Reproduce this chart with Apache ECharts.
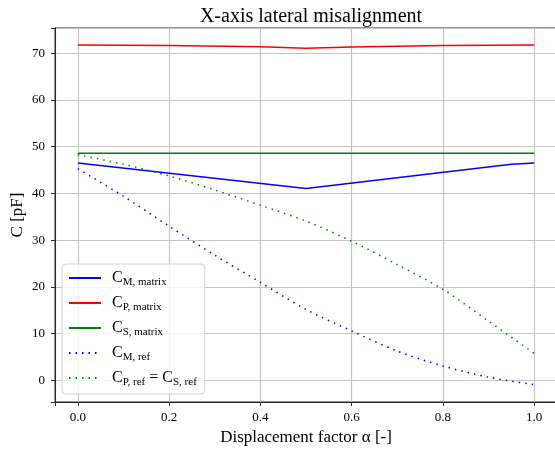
<!DOCTYPE html>
<html>
<head>
<meta charset="utf-8">
<script src="https://cdn.jsdelivr.net/npm/echarts@6/dist/echarts.min.js"></script>
<style>
html, body { margin: 0; padding: 0; background: #fff; }
#main { width: 555px; height: 452px; }
</style>
</head>
<body>
<div id="main"></div>
<script>
// matrix results
var alphaM = [0, 0.5, 0.95, 1.0];
var cMMatrix = [46.5, 41.05, 46.25, 46.5];
var alphaP = [0, 0.2, 0.4, 0.5, 0.6, 0.8, 1.0];
var cPMatrix = [71.75, 71.65, 71.4, 71.05, 71.35, 71.65, 71.75];
var alphaS = [0, 1.0];
var cSMatrix = [48.6, 48.6];

// reference curves
var alphaRef = [0, 0.1, 0.2, 0.3, 0.4, 0.5, 0.6, 0.7, 0.8, 0.9, 1.0];
var cMRef = [45.3, 39.4, 33.0, 26.8, 21.0, 15.2, 10.6, 6.3, 3.1, 0.7, -0.9];
var cPSRef = [48.3, 46.25, 43.75, 40.75, 37.5, 34.1, 29.8, 24.8, 19.5, 12.7, 5.8];

var seriesNames = ['CM_matrix', 'CP_matrix', 'CS_matrix', 'CM_ref', 'CPS_ref'];
var legendText = {
    CM_matrix: '{c|C}{s|M, matrix}',
    CP_matrix: '{c|C}{s|P, matrix}',
    CS_matrix: '{c|C}{s|S, matrix}',
    CM_ref: '{c|C}{s|M, ref}',
    CPS_ref: '{c|C}{s|P, ref}{c| = C}{s|S, ref}'
};

function pairs(xs, ys) {
    return xs.map(function (x, i) { return [x, ys[i]]; });
}

var font = 'Liberation Serif';
var spine = '#262626';

function lineSeries(name, xs, ys, color, dotted) {
    return {
        name: name,
        type: 'line',
        data: pairs(xs, ys),
        symbol: 'none',
        smooth: dotted ? 0.3 : false,
        silent: true,
        color: color,
        lineStyle: {
            color: color,
            width: 1.5,
            type: dotted ? [1.5, 5] : 'solid',
            cap: 'butt'
        }
    };
}

var chart = echarts.init(document.getElementById('main'));
chart.setOption({
    animation: false,
    backgroundColor: '#fff',
    title: {
        text: 'X-axis lateral misalignment',
        left: 306,
        textAlign: 'center',
        top: 2,
        textStyle: { fontFamily: font, fontSize: 20, fontWeight: 'normal', color: '#000' }
    },
    grid: {
        left: 55, top: 28, width: 502, height: 374,
        outerBoundsMode: 'none',
        containLabel: false,
        show: true, borderColor: spine, borderWidth: 1
    },
    legend: {
        data: seriesNames,
        orient: 'vertical',
        left: 62, top: 264,
        padding: [4, 8, 6, 6],
        itemWidth: 32, itemHeight: 14, itemGap: 5,
        backgroundColor: 'rgba(255,255,255,0.8)',
        borderColor: '#d0d0d0', borderWidth: 1, borderRadius: 4,
        itemStyle: { opacity: 0 },
        formatter: function (name) { return legendText[name]; },
        textStyle: {
            fontFamily: font, color: '#000', padding: [0, 0, 0, 6],
            rich: {
                c: { fontFamily: font, fontSize: 16, color: '#000', lineHeight: 20 },
                s: { fontFamily: font, fontSize: 11, color: '#000', lineHeight: 20, padding: [9, 0, 0, 0] }
            }
        }
    },
    xAxis: {
        type: 'value',
        min: -0.05, max: 1.05,
        splitNumber: 5,
        name: 'Displacement factor α [-]',
        nameLocation: 'middle',
        nameGap: 27,
        nameMoveOverlap: false,
        nameTextStyle: { fontFamily: font, fontSize: 17, color: '#000' },
        axisLine: { onZero: false, lineStyle: { color: spine, width: 1 } },
        axisTick: { length: 4, lineStyle: { color: spine } },
        axisLabel: {
            fontFamily: font, fontSize: 13, color: '#000', margin: 9,
            formatter: function (v) {
                var r = Math.round(v * 10) / 10;
                return Math.abs(v - r) < 1e-6 && v >= 0 && v <= 1 ? r.toFixed(1) : '';
            }
        },
        splitLine: { show: true, lineStyle: { color: '#c4c4c4', width: 1.2 } }
    },
    yAxis: {
        type: 'value',
        min: -4.6, max: 75.4,
        splitNumber: 8,
        name: 'C [pF]',
        nameLocation: 'middle',
        nameGap: 29,
        nameMoveOverlap: false,
        nameTextStyle: { fontFamily: font, fontSize: 17, color: '#000' },
        axisLine: { onZero: false, lineStyle: { color: spine, width: 1 } },
        axisTick: { length: 4, lineStyle: { color: spine } },
        axisLabel: {
            fontFamily: font, fontSize: 13, color: '#000', margin: 10,
            formatter: function (v) {
                return Math.abs(v % 10) < 1e-6 ? String(v) : '';
            }
        },
        splitLine: { show: true, lineStyle: { color: '#c4c4c4', width: 1.2 } }
    },
    series: [
        lineSeries('CM_matrix', alphaM, cMMatrix, '#0000ff', false),
        lineSeries('CP_matrix', alphaP, cPMatrix, '#ff0000', false),
        lineSeries('CS_matrix', alphaS, cSMatrix, '#008000', false),
        lineSeries('CM_ref', alphaRef, cMRef, '#0000ff', true),
        lineSeries('CPS_ref', alphaRef, cPSRef, '#008000', true)
    ]
});
</script>
</body>
</html>
